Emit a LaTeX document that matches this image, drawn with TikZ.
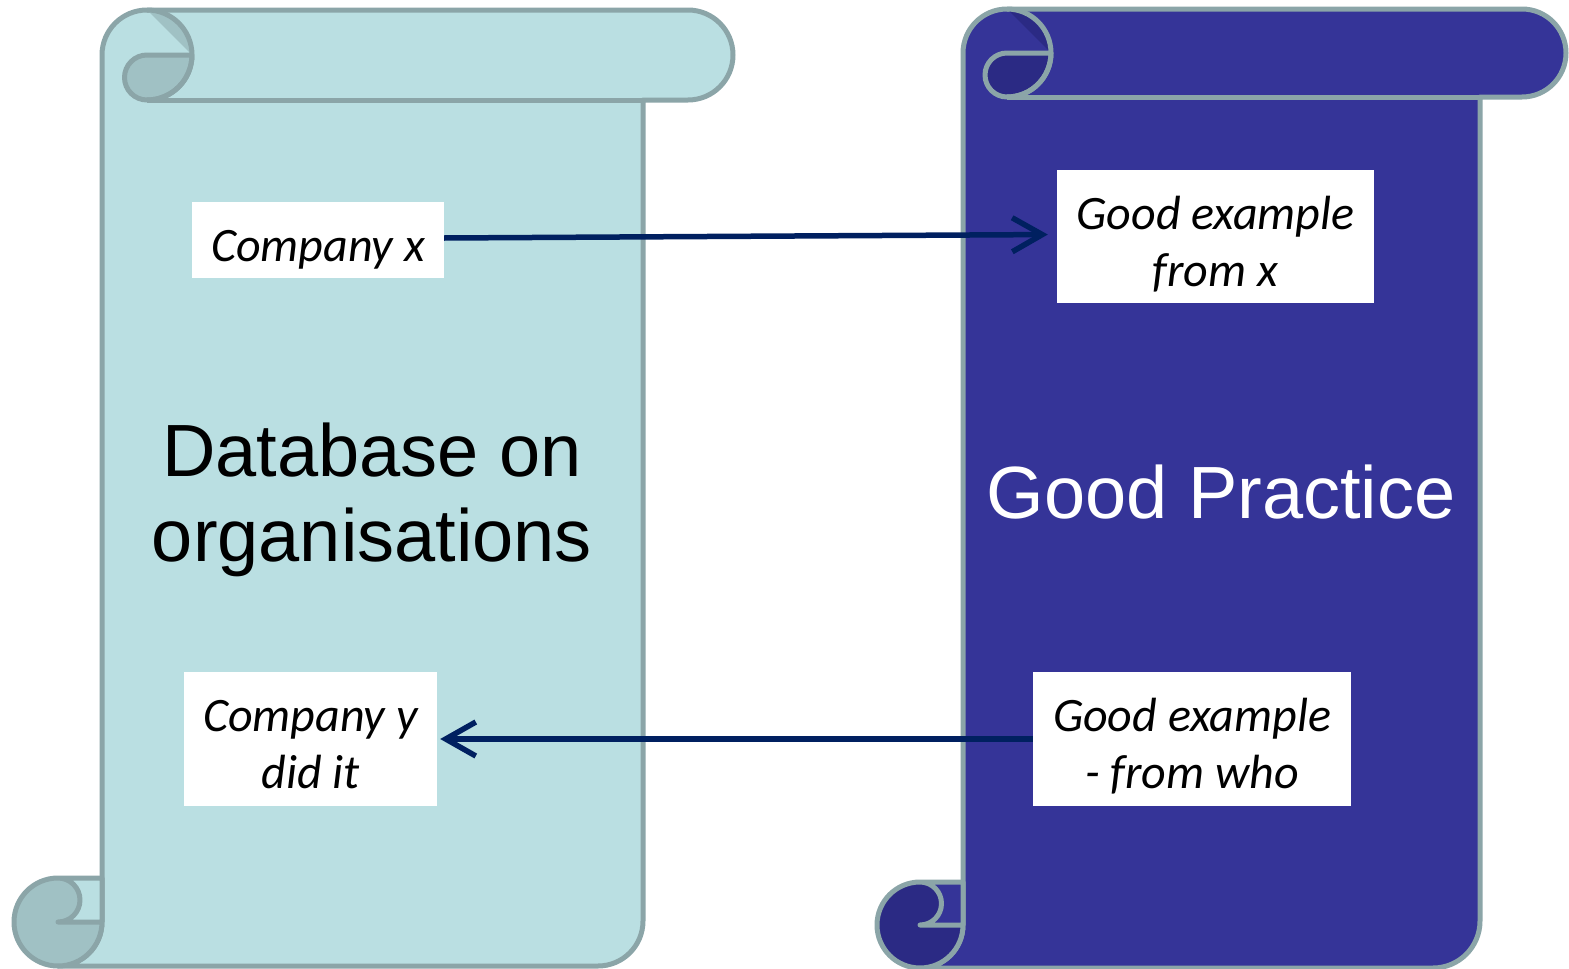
\documentclass[tikz,border=0pt]{standalone}
\usepackage{fontspec}
\newfontfamily\arialf{Liberation Sans}
\newfontfamily\califont{Carlito}
\usetikzlibrary{arrows.meta}
\definecolor{lightfill}{HTML}{BADFE2}
\definecolor{lightdark}{HTML}{A0C1C4}
\definecolor{edgecol}{HTML}{8BA5A8}
\definecolor{bluefill}{HTML}{353498}
\definecolor{bluedark}{HTML}{2B2A84}
\definecolor{navy}{HTML}{002060}
\newcommand\boxtxt[1]{\raisebox{-10pt}[\height][\depth]{\begin{tabular}{@{}c@{}}#1\end{tabular}}}
\begin{document}
\begin{tikzpicture}[x=1pt,y=-1pt,
  edge/.style={draw=edgecol,line width=5pt,line join=round},
  box/.style={fill=white,inner sep=0pt,font=\califont\itshape\fontsize{48}{57}\selectfont},
  link/.style={draw=navy,line width=5.5pt,-{Straight Barb[length=30pt,width=34pt]}},
  bigtext/.style={font=\arialf\fontsize{74}{85}\selectfont,align=center}]
\useasboundingbox (0,0) rectangle (1569,969);
% ---------- left scroll ----------
\path[fill=lightfill,edge] (102,55) arc[start angle=180,end angle=270,radius=45]
  -- (688,10) arc[start angle=270,end angle=450,radius=45]
  -- (643,100) -- (643,921) arc[start angle=0,end angle=90,radius=45]
  -- (58,966) arc[start angle=90,end angle=0,radius=44] -- cycle;
\draw[edge] (147,100) -- (643,100);
\fill[lightdark] (147,10) arc[start angle=270,end angle=360,radius=45] -- cycle;
\path[fill=lightdark,edge] (147,55) -- (192,55) arc[start angle=0,end angle=90,radius=45]
  arc[start angle=90,end angle=270,radius=22.5] -- cycle;
\draw[edge] (147,10) arc[start angle=270,end angle=450,radius=45];
\fill[lightdark] (58,922) circle[radius=44];
\fill[lightfill] (58,878) -- (102,878) -- (102,922) -- (58,922)
  arc[start angle=90,end angle=-90,radius=22] -- cycle;
\draw[edge] (58,878) -- (102,878) -- (102,922) -- (58,922)
  arc[start angle=90,end angle=-90,radius=22]
  (58,878) arc[start angle=270,end angle=0,radius=44];
% ---------- right scroll ----------
\path[fill=bluefill,edge] (963,53) arc[start angle=180,end angle=270,radius=44]
  -- (1522,9) arc[start angle=270,end angle=450,radius=44]
  -- (1480,97) -- (1480,921) arc[start angle=0,end angle=90,radius=47]
  -- (920,968) arc[start angle=90,end angle=0,radius=43] -- cycle;
\draw[edge] (1007,97) -- (1480,97);
\fill[bluedark] (1007,9) arc[start angle=270,end angle=360,radius=44] -- cycle;
\path[fill=bluedark,edge] (1007,53) -- (1051,53) arc[start angle=0,end angle=90,radius=44]
  arc[start angle=90,end angle=270,radius=22] -- cycle;
\draw[edge] (1007,9) arc[start angle=270,end angle=450,radius=44];
\fill[bluedark] (920,925) circle[radius=43];
\fill[bluefill] (920,882) -- (963,882) -- (963,925) -- (920,925)
  arc[start angle=90,end angle=-90,radius=21.5] -- cycle;
\draw[edge] (920,882) -- (963,882) -- (963,925) -- (920,925)
  arc[start angle=90,end angle=-90,radius=21.5]
  (920,882) arc[start angle=270,end angle=0,radius=43];
% ---------- texts ----------
\node[bigtext] (db) at (372,500) {Database on\\organisations};
\node[bigtext,text=white] (gp) at (1221,492) {Good Practice};
\node[box,minimum width=252pt,minimum height=76pt] (cx) at (318,240) {\boxtxt{Company x}};
\node[box,minimum width=317pt,minimum height=133pt] (gx) at (1215.5,236.5) {\boxtxt{Good example\\from x}};
\node[box,minimum width=253pt,minimum height=134pt] (cy) at (310.5,739) {\boxtxt{Company y\\did it}};
\node[box,minimum width=318pt,minimum height=134pt] (gw) at (1192,739) {\boxtxt{Good example\\- from who}};
% ---------- arrows ----------
\draw[link,shorten >=9pt] ([yshift=2pt]cx.east) -- ([yshift=2pt]gx.west);
\draw[link,shorten >=3pt] (gw.west) -- (cy.east);
\end{tikzpicture}
\end{document}
